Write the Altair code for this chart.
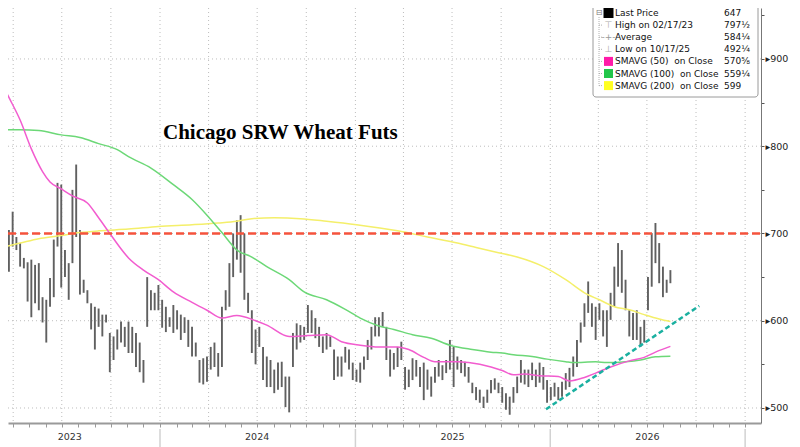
import altair as alt
import pandas as pd

W, H = 753, 415

# ---------------- weekly OHLC range data ----------------
bar_start = "2023-03-10"
high_a = [713, 713, 704, 725, 696, 689, 672, 667, 670, 664, 666, 627, 624, 649, 693, 758, 756, 681, 666, 750,
          779, 704, 647, 635, 620, 616, 614, 607, 607, 586, 582, 590, 599, 593, 599]
low_a = [664, 670, 656, 685, 681, 662, 660, 622, 604, 620, 612, 598, 575, 616, 627, 685, 638, 650, 624, 666,
         696, 630, 632, 620, 590, 567, 593, 582, 598, 541, 555, 567, 575, 570, 563]
high_b = [593, 586, 575, 555, 650, 635, 632, 641, 624, 616, 604, 618, 612, 607, 604, 601, 593, 575, 555, 557,
          559, 570, 575, 563, 616, 635, 666, 700, 715, 721, 700, 632, 612]
low_b = [563, 547, 541, 529, 593, 612, 612, 612, 592, 587, 593, 586, 590, 578, 586, 570, 559, 559, 529, 527,
         530, 544, 547, 536, 547, 612, 616, 650, 670, 655, 624, 609, 563]
high_c = [590, 593, 570, 559, 555, 544, 552, 553, 536, 536, 586, 597, 595, 593, 618, 612, 603, 593, 582, 586,
          582, 567, 559, 559, 570, 567, 552, 544, 552, 559, 578, 593, 604]
low_c = [550, 570, 532, 524, 524, 517, 521, 524, 501, 495, 547, 567, 575, 578, 586, 586, 580, 570, 563, 567,
         570, 532, 536, 536, 552, 544, 532, 530, 529, 544, 555, 567, 582]
high_d = [604, 610, 593, 567, 563, 570, 576, 547, 544, 557, 555, 547, 552, 544, 536, 547, 555, 549, 555, 578,
          570, 559, 555, 553, 547, 529, 524, 521, 513, 521, 532, 534, 529, 524]
low_d = [582, 593, 555, 536, 544, 547, 555, 521, 524, 532, 536, 524, 509, 521, 513, 529, 536, 532, 540, 544,
         524, 544, 540, 536, 529, 517, 509, 506, 500, 506, 517, 521, 517, 506]
high_e = [517, 513, 524, 536, 555, 544, 544, 552, 544, 552, 547, 532, 524, 529, 524, 530, 540, 546, 559, 578,
          598, 620, 645, 620, 616, 620, 612, 612, 632, 662, 689, 681, 647]
low_e = [498, 492.25, 506, 517, 529, 527, 524, 532, 524, 529, 521, 506, 509, 513, 509, 513, 521, 524, 536, 547,
         575, 593, 609, 593, 578, 601, 582, 570, 601, 616, 639, 632, 612]
high_f = [612, 609, 612, 593, 601, 650, 700, 712, 689, 662, 647, 658]
low_f = [582, 578, 578, 570, 575, 612, 639, 666, 643, 627, 632, 643]

high = high_a + high_b + high_c + high_d + high_e + high_f
low = low_a + low_b + low_c + low_d + low_e + low_f

# ---------------- moving averages (read at sample weeks) ----------------
sma50_idx = [0, 2, 5, 8, 11, 13, 16, 19, 23, 26, 29, 34, 38, 42, 46, 51, 55, 59, 63, 68, 71, 77, 82, 87, 91,
             96, 101, 106, 109, 113, 116, 122, 125, 131, 134, 137, 140, 144, 149, 152, 156, 159, 163, 168, 172,
             175, 179]
sma50_val = [873, 856, 830, 797, 771, 759, 751, 743, 735, 718, 700, 672, 658, 647, 633, 621, 612, 603, 606, 600,
             595, 582, 583, 584, 576, 572, 570, 570, 567, 558, 553, 553, 552, 547, 543, 538, 539, 537, 536, 531,
             535, 540, 547, 554, 558, 564, 570.6]
sma100_idx = [0, 5, 10, 16, 21, 26, 31, 34, 40, 46, 51, 55, 59, 63, 67, 71, 77, 81, 87, 92, 96, 101, 105, 110,
              115, 120, 126, 131, 134, 137, 142, 146, 151, 153, 159, 162, 167, 171, 175, 179]
sma100_val = [819, 819, 818, 813, 810, 803, 796, 788, 775, 756, 739, 721, 701, 681, 673, 662, 647, 633, 624, 613,
              603, 594, 590, 584, 580, 572, 567, 564, 563, 561, 559, 556, 553, 552, 553, 552, 553, 555, 558.6,
              559.25]
sma200_idx = [0, 5, 10, 15, 21, 26, 34, 42, 51, 58, 63, 67, 73, 80, 87, 95, 106, 114, 122, 127, 133, 138, 145,
              151, 156, 160, 164, 168, 172, 176, 179]
sma200_val = [684, 689, 694, 697, 701, 703, 705, 708, 710, 712, 714, 717, 718, 717, 714, 710, 703, 696, 689, 684,
              678, 673, 662, 647, 632, 624, 616, 612.5, 607, 602, 599]

resistance = [700]
trend_dates = ["2025-12-24", "2026-10-07"]
trend_vals = [498.5, 617]

hgrid_vals = [500, 600, 700, 800, 900]
year_names = ["2023", "2024", "2025", "2026"]
year_label_dates = ["2023-07-16", "2024-07-01", "2025-07-02", "2026-07-02"]
year_breaks = ["2024-01-01", "2025-01-01", "2026-01-01", "2027-01-01"]

chart_title = "Chicago SRW Wheat Futs"
leg_labels = ["Last Price", "High on 02/17/23", "Average", "Low on 10/17/25",
              "SMAVG (50)\u00a0\u00a0on Close", "SMAVG (100)\u00a0\u00a0on Close", "SMAVG (200)\u00a0\u00a0on Close"]
leg_values = ["647", "797\u00bd", "584\u00bc", "492\u00bc", "570\u215d", "559\u00bc", "599"]

# ---------------- frames ----------------
bar_dates = pd.date_range(bar_start, periods=len(high), freq="7D")
bars = pd.DataFrame({"date": bar_dates, "high": high, "low": low})


def ma_frame(idx, vals):
    return pd.DataFrame({"date": bar_dates[idx], "v": vals})


sma50 = ma_frame(sma50_idx, sma50_val)
sma100 = ma_frame(sma100_idx, sma100_val)
sma200 = ma_frame(sma200_idx, sma200_val)
trend = pd.DataFrame({"date": pd.to_datetime(trend_dates), "v": trend_vals})
hgrid = pd.DataFrame({"v": hgrid_vals})
qgrid = pd.DataFrame({"date": pd.date_range("2023-04-01", "2027-01-01", freq="QS")})
ybreak = pd.DataFrame({"date": pd.to_datetime(year_breaks)})
ylabels = pd.DataFrame({"date": pd.to_datetime(year_label_dates), "t": year_names})

# ---------------- scales / axes ----------------
month_ticks = [alt.DateTime(year=d.year, month=d.month, date=1)
               for d in pd.date_range("2023-04-01", "2027-01-01", freq="MS")]
xs = alt.Scale(domain=[alt.DateTime(year=2023, month=3, date=22, hours=7),
                       alt.DateTime(year=2027, month=1, date=30, hours=17)])
ys = alt.Scale(domain=[482.8, 958.4], nice=False, zero=False)
x_axis = alt.Axis(values=month_ticks, labels=False, title=None, grid=False, tickSize=4,
                  tickColor="#9a9a9a", domainColor="#9a9a9a", domainWidth=2, orient="bottom")
y_axis = alt.Axis(orient="right", values=list(range(500, 1000, 50)),
                  labelExpr="datum.value % 100 == 0 ? '\u25b8' + datum.label : ''",
                  title=None, grid=False, tickSize=3, tickColor="#555", domainColor="#777",
                  labelFont="DejaVu Sans", labelFontSize=9.5, labelColor="#222", labelPadding=1,
                  labelOverlap=False, labelFlush=False)


def X(f):
    return alt.X(f"{f}:T", scale=xs, axis=x_axis)


def Y(f):
    return alt.Y(f"{f}:Q", scale=ys, axis=y_axis)


layers = []
# gridlines
layers.append(alt.Chart(hgrid).mark_rule(color="#bdbdbd", strokeDash=[1, 3], strokeWidth=1).encode(
    y=Y("v"), x=alt.value(0), x2=alt.value(W)))
layers.append(alt.Chart(qgrid).mark_rule(color="#bdbdbd", strokeDash=[1, 3], strokeWidth=1).encode(
    x=X("date"), y=alt.value(0), y2=alt.value(H)))
# year separators and labels in the time band
layers.append(alt.Chart(ybreak).mark_rule(color="#d2d2d2", strokeWidth=1.5).encode(
    x=X("date"), y=alt.value(H + 6), y2=alt.value(H + 24)))
layers.append(alt.Chart(ylabels).mark_text(font="DejaVu Sans", fontSize=9.5, color="#333", baseline="middle",
                                           align="center").encode(
    x=X("date"), y=alt.value(H + 14), text="t:N"))
# price bars
layers.append(alt.Chart(bars).mark_rule(color="#606060", strokeWidth=1.9, clip=True).encode(
    x=X("date"), y=Y("low"), y2=alt.Y2("high:Q")))
# moving averages
for df, col in [(sma200, "#f4ef6a"), (sma100, "#6cd877"), (sma50, "#f25ccf")]:
    layers.append(alt.Chart(df).mark_line(color=col, strokeWidth=1.5, interpolate="monotone", clip=True).encode(
        x=X("date"), y=Y("v")))
# resistance and trend
layers.append(alt.Chart(pd.DataFrame({"v": resistance})).mark_rule(
    color="#f5533d", strokeDash=[8, 4], strokeWidth=2.3).encode(y=Y("v"), x=alt.value(0), x2=alt.value(W)))
layers.append(alt.Chart(trend).mark_line(color="#1ab0a0", strokeDash=[5, 3], strokeWidth=2.5, clip=True).encode(
    x=X("date"), y=Y("v")))
# title
layers.append(alt.Chart(pd.DataFrame({"t": [chart_title]})).mark_text(
    font="Liberation Serif", fontWeight="bold", fontSize=21, color="#000", align="left",
    baseline="alphabetic").encode(text="t:N", x=alt.value(155), y=alt.value(131)))

# legend box
one = pd.DataFrame({"a": [0]})
layers.append(alt.Chart(one).mark_rect(fill="white", stroke="#9a9a9a", strokeWidth=1, cornerRadius=3).encode(
    x=alt.value(585), x2=alt.value(750), y=alt.value(-7), y2=alt.value(89)))
row_y = [5 + 12.1 * k for k in range(len(leg_labels))]
layers.append(alt.Chart(one).mark_rule(color="#b0b0b0", strokeDash=[1, 1]).encode(
    x=alt.value(591), y=alt.value(9), y2=alt.value(row_y[-1])))
layers.append(alt.Chart(pd.DataFrame({"t": ["\u229f"]})).mark_text(
    font="DejaVu Sans", fontSize=8, color="#777", baseline="middle").encode(
    text="t:N", x=alt.value(591), y=alt.value(row_y[0])))
icon_kind = ["sq", "\u22a4", "-+-", "\u22a5", "sq", "sq", "sq"]
icon_col = ["#000000", "#aaaaaa", "#999999", "#aaaaaa", "#ff1aa8", "#22c64a", "#ffff22"]
for k, (lab, val) in enumerate(zip(leg_labels, leg_values)):
    yk = row_y[k]
    if k > 0:
        layers.append(alt.Chart(one).mark_rule(color="#b0b0b0", strokeDash=[1, 1]).encode(
            x=alt.value(591), x2=alt.value(595), y=alt.value(yk)))
    if icon_kind[k] == "sq":
        layers.append(alt.Chart(one).mark_square(size=100 if k == 0 else 81, color=icon_col[k], opacity=1).encode(
            x=alt.value(600.5), y=alt.value(yk)))
    else:
        layers.append(alt.Chart(pd.DataFrame({"t": [icon_kind[k]]})).mark_text(
            font="DejaVu Sans", fontSize=9, color=icon_col[k], baseline="middle", align="center").encode(
            text="t:N", x=alt.value(600.5), y=alt.value(yk)))
    layers.append(alt.Chart(pd.DataFrame({"t": [lab]})).mark_text(
        font="DejaVu Sans", fontSize=9, color="#111", baseline="middle", align="left").encode(
        text="t:N", x=alt.value(607), y=alt.value(yk)))
    layers.append(alt.Chart(pd.DataFrame({"t": [val]})).mark_text(
        font="DejaVu Sans", fontSize=9, color="#111", baseline="middle", align="left").encode(
        text="t:N", x=alt.value(716), y=alt.value(yk)))

chart = alt.layer(*layers).properties(
    width=W, height=H,
    padding={"left": 0, "top": 0, "right": 31, "bottom": 24},
    autosize=alt.AutoSizeParams(type="none"),
    background="white",
).configure_view(stroke=None)

chart.save("out.html", embed_options={"renderer": "svg", "actions": False})
